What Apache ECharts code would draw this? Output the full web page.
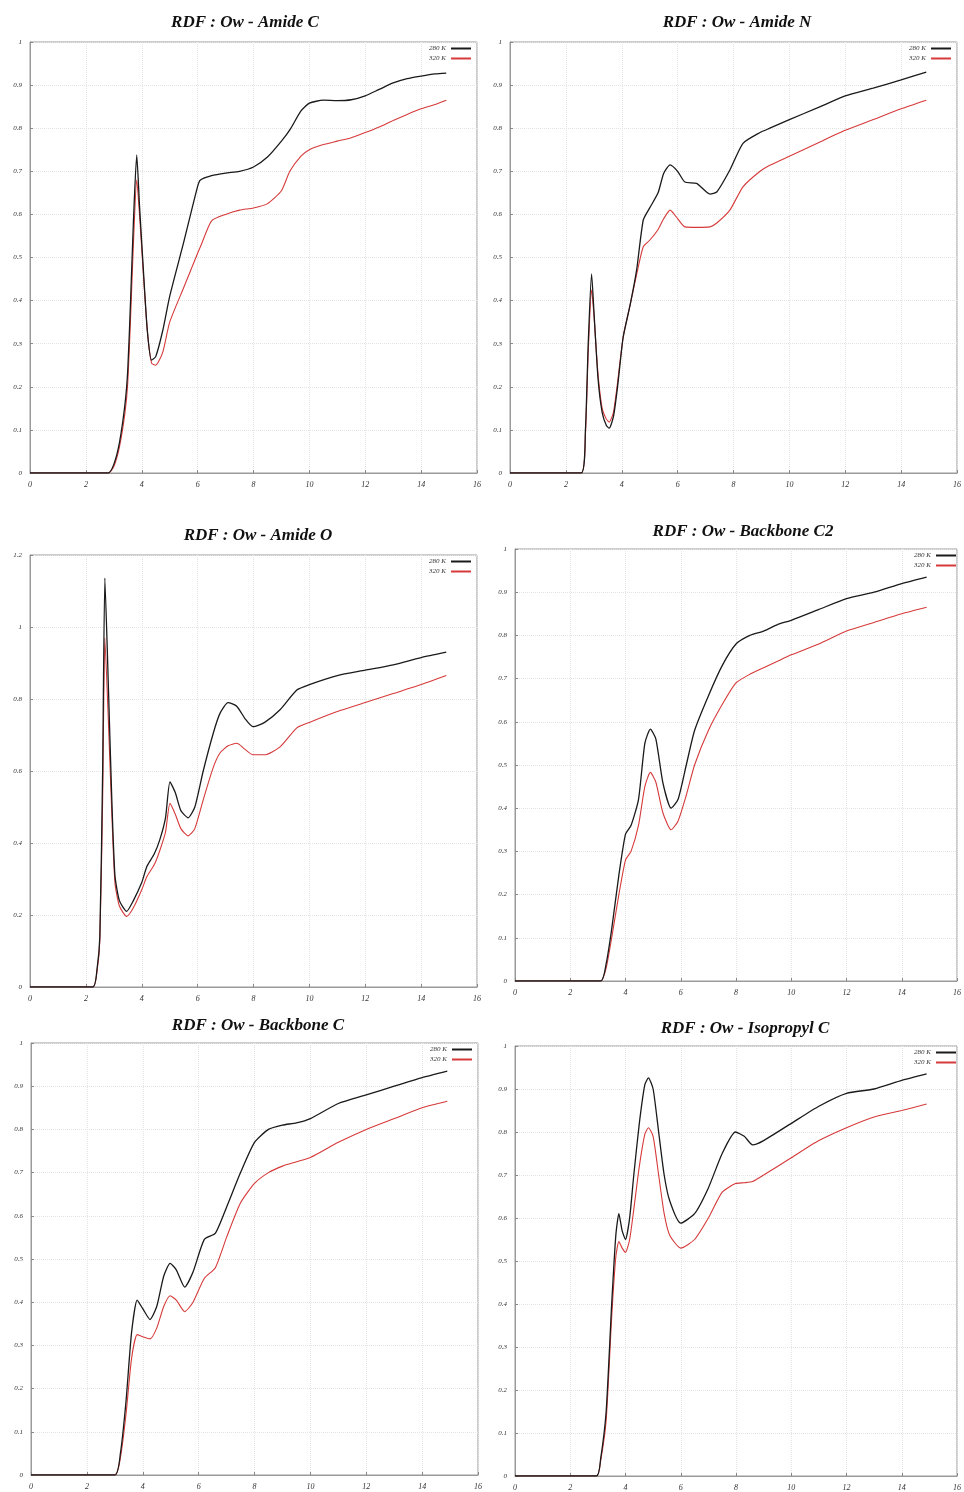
<!DOCTYPE html>
<html>
<head>
<meta charset="utf-8">
<script src="https://cdn.jsdelivr.net/npm/echarts@6/dist/echarts.min.js"></script>
<style>
  html, body { margin: 0; padding: 0; background: #fff; }
  #main { width: 964px; height: 1492px; }
</style>
</head>
<body>
<div id="main"></div>
<script>
// panel titles
const titles = ['RDF : Ow - Amide C', 'RDF : Ow - Amide N', 'RDF : Ow - Amide O',
  'RDF : Ow - Backbone C2', 'RDF : Ow - Backbone C', 'RDF : Ow - Isopropyl C'];
const seriesNames = ['280 K', '320 K'];

// Amide C
const xAmideC = [0, 2.8, 3.0, 3.2, 3.4, 3.5, 3.6, 3.7, 3.82, 3.92, 4.05, 4.2, 4.35, 4.5, 4.75, 5.0, 5.5, 6.0, 6.1, 6.5, 7.0, 7.5, 8.0, 8.5, 9.0, 9.3, 9.7, 10.0, 10.5, 11.0, 11.5, 12.0, 12.5, 13.0, 13.5, 14.0, 14.5, 14.9];
const amideC280 = [0, 0, 0.02, 0.07, 0.16, 0.24, 0.4, 0.58, 0.738, 0.62, 0.48, 0.33, 0.262, 0.27, 0.33, 0.41, 0.535, 0.665, 0.68, 0.69, 0.696, 0.70, 0.71, 0.733, 0.77, 0.796, 0.84, 0.858, 0.865, 0.864, 0.866, 0.875, 0.89, 0.905, 0.915, 0.921, 0.926, 0.928];
const amideC320 = [0, 0, 0.015, 0.06, 0.14, 0.21, 0.36, 0.53, 0.68, 0.6, 0.47, 0.33, 0.255, 0.25, 0.28, 0.35, 0.43, 0.51, 0.525, 0.585, 0.60, 0.61, 0.615, 0.625, 0.655, 0.70, 0.735, 0.75, 0.762, 0.77, 0.778, 0.79, 0.803, 0.818, 0.832, 0.845, 0.855, 0.865];

// Amide N
const xAmideN = [0, 2.55, 2.7, 2.8, 2.92, 3.0, 3.15, 3.3, 3.45, 3.55, 3.7, 3.85, 4.05, 4.3, 4.53, 4.77, 5.0, 5.3, 5.5, 5.73, 6.0, 6.26, 6.68, 7.16, 7.4, 7.87, 8.34, 8.95, 9.3, 10, 11, 12, 13, 14, 14.9];
const amideN280 = [0, 0, 0.1, 0.3, 0.462, 0.38, 0.22, 0.14, 0.11, 0.104, 0.13, 0.2, 0.315, 0.39, 0.47, 0.587, 0.615, 0.65, 0.695, 0.715, 0.7, 0.675, 0.672, 0.647, 0.652, 0.703, 0.765, 0.79, 0.80, 0.82, 0.847, 0.875, 0.893, 0.912, 0.93];
const amideN320 = [0, 0, 0.09, 0.28, 0.425, 0.37, 0.23, 0.15, 0.125, 0.118, 0.14, 0.21, 0.315, 0.39, 0.46, 0.525, 0.54, 0.565, 0.59, 0.61, 0.59, 0.571, 0.57, 0.571, 0.58, 0.61, 0.664, 0.70, 0.714, 0.735, 0.765, 0.795, 0.82, 0.845, 0.865];

// Amide O
const xAmideO = [0, 2.25, 2.4, 2.5, 2.6, 2.68, 2.8, 2.92, 3.04, 3.2, 3.46, 3.7, 4.0, 4.18, 4.45, 4.65, 4.85, 5.01, 5.2, 5.4, 5.66, 5.9, 6.2, 6.56, 6.8, 7.09, 7.4, 7.7, 7.98, 8.4, 8.95, 9.55, 10, 11, 12, 13, 14, 14.9];
const amideO280 = [0, 0, 0.05, 0.14, 0.6, 1.136, 0.85, 0.54, 0.31, 0.24, 0.21, 0.24, 0.29, 0.334, 0.37, 0.41, 0.47, 0.57, 0.54, 0.49, 0.47, 0.5, 0.6, 0.705, 0.76, 0.79, 0.78, 0.745, 0.723, 0.735, 0.77, 0.825, 0.84, 0.865, 0.88, 0.895, 0.915, 0.93];
const amideO320 = [0, 0, 0.045, 0.13, 0.52, 0.969, 0.75, 0.5, 0.29, 0.225, 0.196, 0.22, 0.27, 0.306, 0.34, 0.38, 0.43, 0.51, 0.48, 0.44, 0.42, 0.44, 0.52, 0.61, 0.65, 0.67, 0.677, 0.66, 0.645, 0.645, 0.667, 0.72, 0.735, 0.765, 0.79, 0.815, 0.84, 0.865];

// Backbone C2
const xBackC2 = [0, 3.1, 3.3, 3.5, 3.76, 4.0, 4.2, 4.47, 4.7, 4.9, 5.1, 5.35, 5.65, 5.9, 6.2, 6.5, 7, 7.5, 8, 8.5, 9, 9.5, 10, 11, 12, 13, 14, 14.9];
const backC2_280 = [0, 0, 0.04, 0.12, 0.245, 0.34, 0.36, 0.42, 0.55, 0.583, 0.56, 0.46, 0.40, 0.42, 0.5, 0.58, 0.66, 0.73, 0.78, 0.80, 0.81, 0.825, 0.835, 0.86, 0.885, 0.90, 0.92, 0.935];
const backC2_320 = [0, 0, 0.03, 0.1, 0.2, 0.28, 0.3, 0.36, 0.45, 0.483, 0.46, 0.39, 0.35, 0.37, 0.43, 0.5, 0.58, 0.64, 0.69, 0.71, 0.725, 0.74, 0.755, 0.78, 0.81, 0.83, 0.85, 0.865];

// Backbone C
const xBackC = [0, 3.0, 3.2, 3.4, 3.6, 3.8, 4.0, 4.26, 4.5, 4.75, 4.98, 5.2, 5.5, 5.8, 6.2, 6.6, 7, 7.5, 8, 8.5, 9, 9.5, 10, 11, 12, 13, 14, 14.9];
const backC280 = [0, 0, 0.05, 0.17, 0.33, 0.405, 0.385, 0.36, 0.39, 0.46, 0.49, 0.475, 0.435, 0.47, 0.545, 0.56, 0.62, 0.70, 0.77, 0.80, 0.81, 0.815, 0.825, 0.86, 0.88, 0.90, 0.92, 0.935];
const backC320 = [0, 0, 0.04, 0.14, 0.27, 0.325, 0.32, 0.315, 0.34, 0.39, 0.415, 0.405, 0.378, 0.40, 0.455, 0.48, 0.55, 0.63, 0.675, 0.70, 0.715, 0.725, 0.735, 0.77, 0.80, 0.825, 0.85, 0.865];

// Isopropyl C
const xIsoC = [0, 2.95, 3.1, 3.3, 3.5, 3.65, 3.76, 3.88, 4.0, 4.15, 4.3, 4.5, 4.7, 4.83, 5.0, 5.2, 5.4, 5.6, 6.0, 6.5, 7, 7.5, 7.98, 8.3, 8.6, 9, 10, 11, 12, 13, 14, 14.9];
const isoC280 = [0, 0, 0.04, 0.15, 0.4, 0.56, 0.61, 0.57, 0.55, 0.6, 0.7, 0.82, 0.91, 0.926, 0.9, 0.8, 0.7, 0.64, 0.588, 0.61, 0.67, 0.75, 0.80, 0.79, 0.77, 0.78, 0.82, 0.86, 0.89, 0.90, 0.92, 0.935];
const isoC320 = [0, 0, 0.035, 0.13, 0.37, 0.51, 0.545, 0.53, 0.52, 0.55, 0.62, 0.72, 0.795, 0.81, 0.79, 0.7, 0.61, 0.56, 0.53, 0.55, 0.60, 0.66, 0.68, 0.682, 0.685, 0.70, 0.74, 0.78, 0.81, 0.835, 0.85, 0.865];

const panels = [
  { x: xAmideC, a: amideC280, b: amideC320, ymax: 1, yint: 0.1 },
  { x: xAmideN, a: amideN280, b: amideN320, ymax: 1, yint: 0.1 },
  { x: xAmideO, a: amideO280, b: amideO320, ymax: 1.2, yint: 0.2 },
  { x: xBackC2, a: backC2_280, b: backC2_320, ymax: 1, yint: 0.1 },
  { x: xBackC, a: backC280, b: backC320, ymax: 1, yint: 0.1 },
  { x: xIsoC, a: isoC280, b: isoC320, ymax: 1, yint: 0.1 }
];

// layout of each plot box
const boxes = [
  { left: 30, top: 42, width: 447, height: 431, tx: 240, ty: 9 },
  { left: 510, top: 42, width: 447, height: 431, tx: 732, ty: 9 },
  { left: 30, top: 555, width: 447, height: 432, tx: 253, ty: 522 },
  { left: 515, top: 549, width: 447, height: 432, tx: 738, ty: 518 },
  { left: 31, top: 1043, width: 447, height: 432, tx: 253, ty: 1012 },
  { left: 515, top: 1046, width: 447, height: 432, tx: 740, ty: 1015 }
];

const serif = 'Liberation Serif';
const zip = (xs, ys) => xs.map((v, i) => [v, ys[i]]);

const option = {
  backgroundColor: '#fff',
  animation: false,
  title: [], legend: [], grid: [], xAxis: [], yAxis: [], series: []
};

panels.forEach((p, i) => {
  const b = boxes[i];
  option.title.push({
    text: titles[i], left: b.tx, top: b.ty, textAlign: 'center',
    textStyle: { fontFamily: serif, fontStyle: 'italic', fontWeight: 'bold', fontSize: 17, color: '#111' }
  });
  option.legend.push({
    data: seriesNames, orient: 'vertical', align: 'right',
    right: 964 - (b.left + b.width) + 6, top: b.top + 3,
    icon: 'rect', itemWidth: 20, itemHeight: 2, itemGap: 3, padding: 0,
    selectedMode: false,
    textStyle: { fontFamily: serif, fontStyle: 'italic', fontSize: 7, color: '#333', padding: [0, 0, 0, 0] }
  });
  option.grid.push({
    left: b.left, top: b.top, width: b.width, height: b.height,
    show: true, borderColor: '#9a9a9a', borderWidth: 1, backgroundColor: '#fff'
  });
  option.xAxis.push({
    gridIndex: i, type: 'value', min: 0, max: 16, interval: 2,
    axisLine: { show: true, lineStyle: { color: '#9a9a9a' } },
    axisTick: { show: true, inside: true, length: 3, lineStyle: { color: '#888' } },
    axisLabel: { fontFamily: serif, fontStyle: 'italic', fontSize: 8, color: '#333', margin: 8 },
    splitLine: { show: true, lineStyle: { color: '#e4e4e4', type: 'dotted' } }
  });
  option.yAxis.push({
    gridIndex: i, type: 'value', min: 0, max: p.ymax, interval: p.yint,
    axisLine: { show: true, lineStyle: { color: '#9a9a9a' } },
    axisTick: { show: true, inside: true, length: 3, lineStyle: { color: '#888' } },
    axisLabel: { fontFamily: serif, fontStyle: 'italic', fontSize: 7, color: '#333', margin: 8,
      formatter: v => String(Math.round(v * 10) / 10) },
    splitLine: { show: true, lineStyle: { color: '#e4e4e4', type: 'dotted' } }
  });
  option.series.push({
    name: seriesNames[0], type: 'line', xAxisIndex: i, yAxisIndex: i,
    data: zip(p.x, p.a), showSymbol: false, smooth: 0.2, z: 3,
    lineStyle: { color: '#1a1a1a', width: 1.3 }, itemStyle: { color: '#1a1a1a' }
  });
  option.series.push({
    name: seriesNames[1], type: 'line', xAxisIndex: i, yAxisIndex: i,
    data: zip(p.x, p.b), showSymbol: false, smooth: 0.2, z: 2,
    lineStyle: { color: '#d63a3a', width: 1.1 }, itemStyle: { color: '#d63a3a' }
  });
});

const myChart = echarts.init(document.getElementById('main'), null, { renderer: 'canvas' });
myChart.setOption(option);
</script>
</body>
</html>
